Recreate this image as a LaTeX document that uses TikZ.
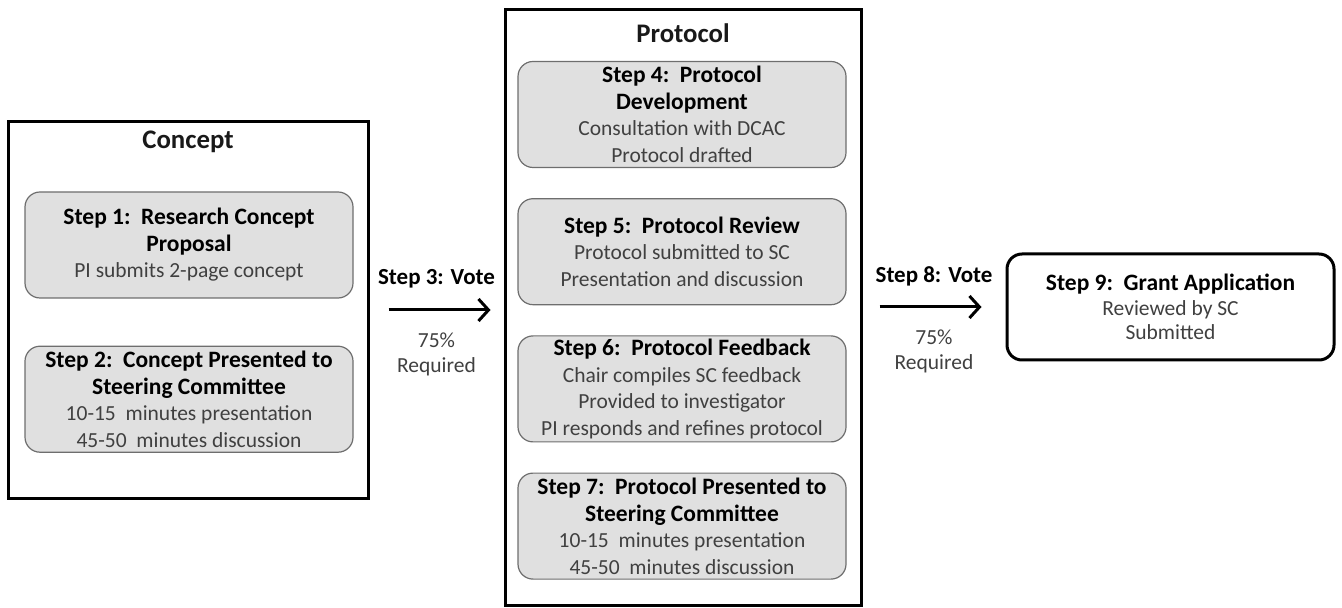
\documentclass[tikz,border=0pt]{standalone}
\usepackage{fontspec}
\setmainfont{Carlito}
\usepackage{tikz}
\usetikzlibrary{arrows.meta, positioning}
\definecolor{boxgray}{RGB}{224,224,224}
\definecolor{edgegray}{RGB}{110,110,110}
\definecolor{textgray}{RGB}{64,64,64}
\newcommand{\steph}[1]{{\fontsize{11.75pt}{13.25pt}\selectfont\bfseries\color{black}#1}}

\begin{document}
\begin{tikzpicture}[
  x=0.5pt, y=-0.5pt,
  node distance=15pt,
  frame/.style={rectangle, draw=black, line width=1.5pt, inner sep=0pt},
  stepbox/.style={rectangle, draw=edgegray, fill=boxgray, line width=0.6pt, rounded corners=7.5pt,
              minimum height=53pt, minimum width=164pt, inner sep=0pt, align=center, text=textgray,
              font=\fontsize{10.75pt}{13.25pt}\selectfont},
  heading/.style={font=\fontsize{13.4pt}{16pt}\selectfont\bfseries, text=black!90},
  votelabel/.style={font=\fontsize{11.5pt}{13pt}\selectfont\bfseries, text=black},
  note/.style={align=center, text=textgray, font=\fontsize{10.75pt}{12.5pt}\selectfont},
  arrow/.style={-{Straight Barb[length=5pt, width=11pt]}, line width=1.5pt}
]
\useasboundingbox (0,0) rectangle (1342,608);

% concept stage
\node[frame, minimum width=180pt, minimum height=188pt] (concept) at (188,310) {};
\node[heading] (concepttitle) at (188,142) {Concept};
\node[stepbox] (step1) at (189,245) {\steph{Step 1:\ \ Research Concept}\\ \steph{Proposal}\\ PI submits 2-page concept};
\node[stepbox, below=23.5pt of step1] (step2) {\steph{Step 2:\ \ Concept Presented to}\\ \steph{Steering Committee}\\ 10-15\ \ minutes presentation\\ 45-50\ \ minutes discussion};

% protocol stage
\node[frame, minimum width=178pt, minimum height=297.5pt] (protocol) at (683,307.5) {};
\node[heading] (protocoltitle) at (683,33) {Protocol};
\node[stepbox] (step4) at (682,114.5) {\steph{Step 4:\ \ Protocol}\\ \steph{Development}\\ Consultation with DCAC\\ Protocol drafted};
\node[stepbox, below=of step4] (step5) {\steph{Step 5:\ \ Protocol Review}\\ Protocol submitted to SC\\ Presentation and discussion};
\node[stepbox, below=of step5] (step6) {\steph{Step 6:\ \ Protocol Feedback}\\ Chair compiles SC feedback\\ Provided to investigator\\ PI responds and refines protocol};
\node[stepbox, below=of step6] (step7) {\steph{Step 7:\ \ Protocol Presented to}\\ \steph{Steering Committee}\\ 10-15\ \ minutes presentation\\ 45-50\ \ minutes discussion};

% grant
\node[frame, rounded corners=7.5pt, minimum width=163.5pt, minimum height=53pt, align=center, text=textgray,
      font=\fontsize{10.75pt}{12.25pt}\selectfont] (step9) at (1170.5,307) {\steph{Step 9:\ \ Grant Application}\\ Reviewed by SC\\ Submitted};

% votes
\draw[arrow, shorten <=9.5pt, shorten >=6.5pt] (concept.east) -- (concept.east -| protocol.west)
  node[midway, yshift=15.5pt, votelabel] (vote3) {Step 3: Vote}
  node[midway, yshift=-22.25pt, note] (req3) {75\%\\Required};
\draw[arrow, shorten <=8.5pt, shorten >=12pt] (protocol.east |- step9.west) -- (step9.west)
  node[midway, yshift=15.5pt, votelabel] (vote8) {Step 8: Vote}
  node[midway, yshift=-22.25pt, note] (req8) {75\%\\Required};
\end{tikzpicture}
\end{document}
